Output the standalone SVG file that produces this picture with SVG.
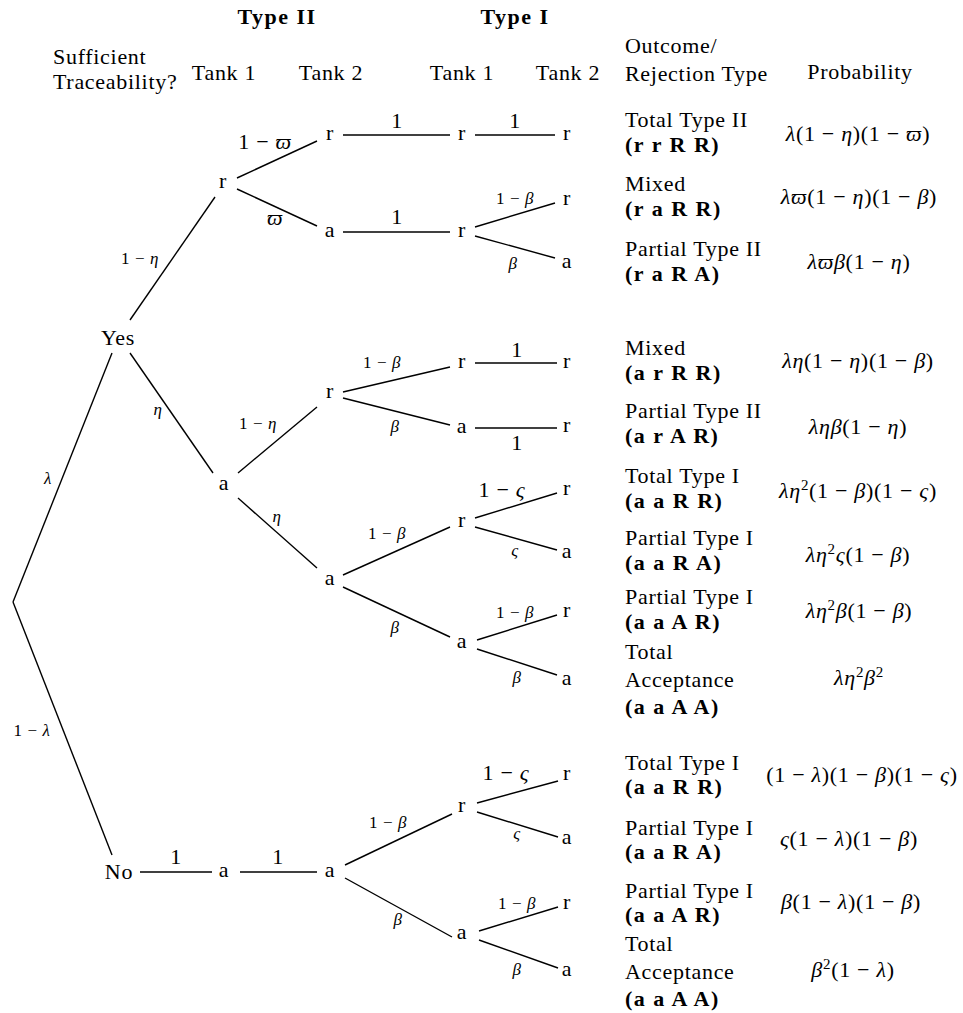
<svg xmlns="http://www.w3.org/2000/svg" width="963" height="1013" viewBox="0 0 963 1013">
<style>
text { font-size: 22px; fill: #000; letter-spacing: 0.7px; }
.m { text-anchor: middle; }
.b { font-weight: bold; letter-spacing: 1.5px; }
.s { font-size: 17px; letter-spacing: 0.6px; }
.i { font-style: italic; }
#connectors line { stroke: #000; stroke-width: 1.4; stroke-linecap: butt; }
</style>
<rect width="963" height="1013" fill="#fff"/>

<g id="header">
<text font-family="Liberation Serif" class="m b" x="277" y="24">Type II</text>
<text font-family="Liberation Serif" class="m b" x="515" y="24">Type I</text>
<text font-family="Liberation Serif" x="53" y="64">Sufficient</text>
<text font-family="Liberation Serif" x="53" y="89">Traceability?</text>
<text font-family="Liberation Serif" class="m" x="224" y="80">Tank 1</text>
<text font-family="Liberation Serif" class="m" x="331" y="80">Tank 2</text>
<text font-family="Liberation Serif" class="m" x="462" y="80">Tank 1</text>
<text font-family="Liberation Serif" class="m" x="568" y="80">Tank 2</text>
<text font-family="Liberation Serif" x="625" y="53">Outcome/</text>
<text font-family="Liberation Serif" x="625" y="81">Rejection Type</text>
<text font-family="Liberation Serif" class="m" x="860" y="79">Probability</text>
</g>

<g id="connectors">
<line x1="13" y1="602" x2="112" y2="353"/>
<line x1="13" y1="602" x2="112" y2="855"/>
<line x1="130" y1="320" x2="215" y2="197"/>
<line x1="130" y1="353" x2="213" y2="473"/>
<line x1="237" y1="178" x2="317" y2="141"/>
<line x1="237" y1="189" x2="317" y2="226"/>
<line x1="343" y1="135" x2="450" y2="135"/>
<line x1="475" y1="135" x2="555" y2="135"/>
<line x1="343" y1="232" x2="450" y2="232"/>
<line x1="475" y1="227" x2="555" y2="203"/>
<line x1="475" y1="236" x2="555" y2="258"/>
<line x1="238" y1="473" x2="317" y2="407"/>
<line x1="238" y1="498" x2="317" y2="568"/>
<line x1="343" y1="392" x2="450" y2="367"/>
<line x1="343" y1="398" x2="450" y2="425"/>
<line x1="475" y1="363" x2="557" y2="363"/>
<line x1="475" y1="428" x2="557" y2="428"/>
<line x1="343" y1="575" x2="450" y2="527"/>
<line x1="343" y1="587" x2="450" y2="637"/>
<line x1="475" y1="518" x2="557" y2="493"/>
<line x1="475" y1="527" x2="557" y2="550"/>
<line x1="477" y1="640" x2="557" y2="615"/>
<line x1="477" y1="649" x2="557" y2="675"/>
<line x1="140" y1="872" x2="212" y2="872"/>
<line x1="240" y1="872" x2="317" y2="872"/>
<line x1="345" y1="865" x2="452" y2="814"/>
<line x1="345" y1="878" x2="452" y2="937"/>
<line x1="477" y1="803" x2="558" y2="781"/>
<line x1="477" y1="812" x2="558" y2="837"/>
<line x1="479" y1="931" x2="558" y2="907"/>
<line x1="479" y1="940" x2="558" y2="968"/>
</g>

<g id="edge-labels">
<text font-family="Liberation Serif" class="m s i" x="48" y="484">λ</text>
<text font-family="Liberation Serif" class="m s" x="32" y="736">1 − <tspan class="i">λ</tspan></text>
<text font-family="Liberation Serif" class="m s" x="140" y="264">1 − <tspan class="i">η</tspan></text>
<text font-family="Liberation Serif" class="m s i" x="158" y="415">η</text>
<text font-family="Liberation Serif" class="m s" x="258" y="429">1 − <tspan class="i">η</tspan></text>
<text font-family="Liberation Serif" class="m s i" x="277" y="522">η</text>
<text font-family="Liberation Serif" class="m" x="265" y="149">1 − <tspan class="i">ϖ</tspan></text>
<text font-family="Liberation Serif" class="m i" x="275" y="225">ϖ</text>
<text font-family="Liberation Serif" class="m" x="397" y="128">1</text>
<text font-family="Liberation Serif" class="m" x="515" y="128">1</text>
<text font-family="Liberation Serif" class="m" x="397" y="224">1</text>
<text font-family="Liberation Serif" class="m s" x="515" y="204">1 − <tspan class="i">β</tspan></text>
<text font-family="Liberation Serif" class="m s i" x="513" y="269">β</text>
<text font-family="Liberation Serif" class="m s" x="382" y="368">1 − <tspan class="i">β</tspan></text>
<text font-family="Liberation Serif" class="m s i" x="395" y="432">β</text>
<text font-family="Liberation Serif" class="m" x="517" y="357">1</text>
<text font-family="Liberation Serif" class="m" x="517" y="450">1</text>
<text font-family="Liberation Serif" class="m s" x="387" y="539">1 − <tspan class="i">β</tspan></text>
<text font-family="Liberation Serif" class="m s i" x="395" y="633">β</text>
<text font-family="Liberation Serif" class="m" x="502" y="497">1 − <tspan class="i">ς</tspan></text>
<text font-family="Liberation Serif" class="m s i" x="515" y="556">ς</text>
<text font-family="Liberation Serif" class="m s" x="515" y="618">1 − <tspan class="i">β</tspan></text>
<text font-family="Liberation Serif" class="m s i" x="517" y="683">β</text>
<text font-family="Liberation Serif" class="m" x="176" y="864">1</text>
<text font-family="Liberation Serif" class="m" x="278" y="864">1</text>
<text font-family="Liberation Serif" class="m s" x="388" y="828">1 − <tspan class="i">β</tspan></text>
<text font-family="Liberation Serif" class="m s i" x="398" y="925">β</text>
<text font-family="Liberation Serif" class="m" x="506" y="780">1 − <tspan class="i">ς</tspan></text>
<text font-family="Liberation Serif" class="m s i" x="517" y="839">ς</text>
<text font-family="Liberation Serif" class="m s" x="517" y="909">1 − <tspan class="i">β</tspan></text>
<text font-family="Liberation Serif" class="m s i" x="517" y="975">β</text>
</g>

<g id="nodes">
<g id="n-yes"><text font-family="Liberation Serif" class="m" x="118" y="345">Yes</text></g>
<g id="n-no"><text font-family="Liberation Serif" class="m" x="119" y="879">No</text></g>
<g id="n-y-r"><text font-family="Liberation Serif" class="m" x="223" y="188">r</text></g>
<g id="n-y-a"><text font-family="Liberation Serif" class="m" x="224" y="490">a</text></g>
<g id="n-yr-r"><text font-family="Liberation Serif" class="m" x="330" y="140">r</text></g>
<g id="n-yr-a"><text font-family="Liberation Serif" class="m" x="330" y="237">a</text></g>
<g id="n-ya-r"><text font-family="Liberation Serif" class="m" x="330" y="398">r</text></g>
<g id="n-ya-a"><text font-family="Liberation Serif" class="m" x="330" y="585">a</text></g>
<g id="n-yrr-r"><text font-family="Liberation Serif" class="m" x="462" y="140">r</text></g>
<g id="n-yra-r"><text font-family="Liberation Serif" class="m" x="462" y="237">r</text></g>
<g id="n-yar-r"><text font-family="Liberation Serif" class="m" x="462" y="368">r</text></g>
<g id="n-yar-a"><text font-family="Liberation Serif" class="m" x="462" y="433">a</text></g>
<g id="n-yaa-r"><text font-family="Liberation Serif" class="m" x="462" y="527">r</text></g>
<g id="n-yaa-a"><text font-family="Liberation Serif" class="m" x="462" y="648">a</text></g>
<g id="n-l1"><text font-family="Liberation Serif" class="m" x="567" y="140">r</text></g>
<g id="n-l2"><text font-family="Liberation Serif" class="m" x="567" y="205">r</text></g>
<g id="n-l3"><text font-family="Liberation Serif" class="m" x="567" y="268">a</text></g>
<g id="n-l4"><text font-family="Liberation Serif" class="m" x="567" y="368">r</text></g>
<g id="n-l5"><text font-family="Liberation Serif" class="m" x="567" y="432">r</text></g>
<g id="n-l6"><text font-family="Liberation Serif" class="m" x="567" y="495">r</text></g>
<g id="n-l7"><text font-family="Liberation Serif" class="m" x="567" y="558">a</text></g>
<g id="n-l8"><text font-family="Liberation Serif" class="m" x="567" y="617">r</text></g>
<g id="n-l9"><text font-family="Liberation Serif" class="m" x="567" y="685">a</text></g>
<g id="n-n-a"><text font-family="Liberation Serif" class="m" x="224" y="877">a</text></g>
<g id="n-na-a"><text font-family="Liberation Serif" class="m" x="330" y="877">a</text></g>
<g id="n-naa-r"><text font-family="Liberation Serif" class="m" x="462" y="812">r</text></g>
<g id="n-naa-a"><text font-family="Liberation Serif" class="m" x="462" y="939">a</text></g>
<g id="n-l10"><text font-family="Liberation Serif" class="m" x="567" y="780">r</text></g>
<g id="n-l11"><text font-family="Liberation Serif" class="m" x="567" y="844">a</text></g>
<g id="n-l12"><text font-family="Liberation Serif" class="m" x="567" y="909">r</text></g>
<g id="n-l13"><text font-family="Liberation Serif" class="m" x="567" y="976">a</text></g>
</g>

<g id="outcomes">
<text font-family="Liberation Serif" x="625" y="127">Total Type II</text>
<text font-family="Liberation Serif" class="b" x="625" y="152">(r r R R)</text>
<text font-family="Liberation Serif" x="625" y="191">Mixed</text>
<text font-family="Liberation Serif" class="b" x="625" y="216">(r a R R)</text>
<text font-family="Liberation Serif" x="625" y="256">Partial Type II</text>
<text font-family="Liberation Serif" class="b" x="625" y="281">(r a R A)</text>
<text font-family="Liberation Serif" x="625" y="355">Mixed</text>
<text font-family="Liberation Serif" class="b" x="625" y="380">(a r R R)</text>
<text font-family="Liberation Serif" x="625" y="418">Partial Type II</text>
<text font-family="Liberation Serif" class="b" x="625" y="443">(a r A R)</text>
<text font-family="Liberation Serif" x="625" y="483">Total Type I</text>
<text font-family="Liberation Serif" class="b" x="625" y="508">(a a R R)</text>
<text font-family="Liberation Serif" x="625" y="545">Partial Type I</text>
<text font-family="Liberation Serif" class="b" x="625" y="570">(a a R A)</text>
<text font-family="Liberation Serif" x="625" y="604">Partial Type I</text>
<text font-family="Liberation Serif" class="b" x="625" y="629">(a a A R)</text>
<text font-family="Liberation Serif" x="625" y="659">Total</text>
<text font-family="Liberation Serif" x="625" y="687">Acceptance</text>
<text font-family="Liberation Serif" class="b" x="625" y="714">(a a A A)</text>
<text font-family="Liberation Serif" x="625" y="770">Total Type I</text>
<text font-family="Liberation Serif" class="b" x="625" y="794">(a a R R)</text>
<text font-family="Liberation Serif" x="625" y="835">Partial Type I</text>
<text font-family="Liberation Serif" class="b" x="625" y="859">(a a R A)</text>
<text font-family="Liberation Serif" x="625" y="898">Partial Type I</text>
<text font-family="Liberation Serif" class="b" x="625" y="922">(a a A R)</text>
<text font-family="Liberation Serif" x="625" y="951">Total</text>
<text font-family="Liberation Serif" x="625" y="979">Acceptance</text>
<text font-family="Liberation Serif" class="b" x="625" y="1006">(a a A A)</text>
</g>

<g id="probabilities">
<text font-family="Liberation Serif" class="m" x="858" y="141"><tspan class="i">λ</tspan>(1 − <tspan class="i">η</tspan>)(1 − <tspan class="i">ϖ</tspan>)</text>
<text font-family="Liberation Serif" class="m" x="859" y="204"><tspan class="i">λϖ</tspan>(1 − <tspan class="i">η</tspan>)(1 − <tspan class="i">β</tspan>)</text>
<text font-family="Liberation Serif" class="m" x="859" y="269"><tspan class="i">λϖβ</tspan>(1 − <tspan class="i">η</tspan>)</text>
<text font-family="Liberation Serif" class="m" x="858" y="368"><tspan class="i">λη</tspan>(1 − <tspan class="i">η</tspan>)(1 − <tspan class="i">β</tspan>)</text>
<text font-family="Liberation Serif" class="m" x="858" y="434"><tspan class="i">ληβ</tspan>(1 − <tspan class="i">η</tspan>)</text>
<text font-family="Liberation Serif" class="m" x="858" y="498"><tspan class="i">λη</tspan><tspan font-size="15" dy="-8">2</tspan><tspan dy="8">(1 − </tspan><tspan class="i">β</tspan>)(1 − <tspan class="i">ς</tspan>)</text>
<text font-family="Liberation Serif" class="m" x="858" y="562"><tspan class="i">λη</tspan><tspan font-size="15" dy="-8">2</tspan><tspan class="i" dy="8">ς</tspan>(1 − <tspan class="i">β</tspan>)</text>
<text font-family="Liberation Serif" class="m" x="859" y="618"><tspan class="i">λη</tspan><tspan font-size="15" dy="-8">2</tspan><tspan class="i" dy="8">β</tspan>(1 − <tspan class="i">β</tspan>)</text>
<text font-family="Liberation Serif" class="m" x="859" y="685"><tspan class="i">λη</tspan><tspan font-size="15" dy="-8">2</tspan><tspan class="i" dy="8">β</tspan><tspan font-size="15" dy="-8">2</tspan></text>
<text font-family="Liberation Serif" class="m" x="862" y="782">(1 − <tspan class="i">λ</tspan>)(1 − <tspan class="i">β</tspan>)(1 − <tspan class="i">ς</tspan>)</text>
<text font-family="Liberation Serif" class="m" x="849" y="846"><tspan class="i">ς</tspan>(1 − <tspan class="i">λ</tspan>)(1 − <tspan class="i">β</tspan>)</text>
<text font-family="Liberation Serif" class="m" x="851" y="909"><tspan class="i">β</tspan>(1 − <tspan class="i">λ</tspan>)(1 − <tspan class="i">β</tspan>)</text>
<text font-family="Liberation Serif" class="m" x="853" y="977"><tspan class="i">β</tspan><tspan font-size="15" dy="-8">2</tspan><tspan dy="8">(1 − </tspan><tspan class="i">λ</tspan>)</text>
</g>
</svg>
